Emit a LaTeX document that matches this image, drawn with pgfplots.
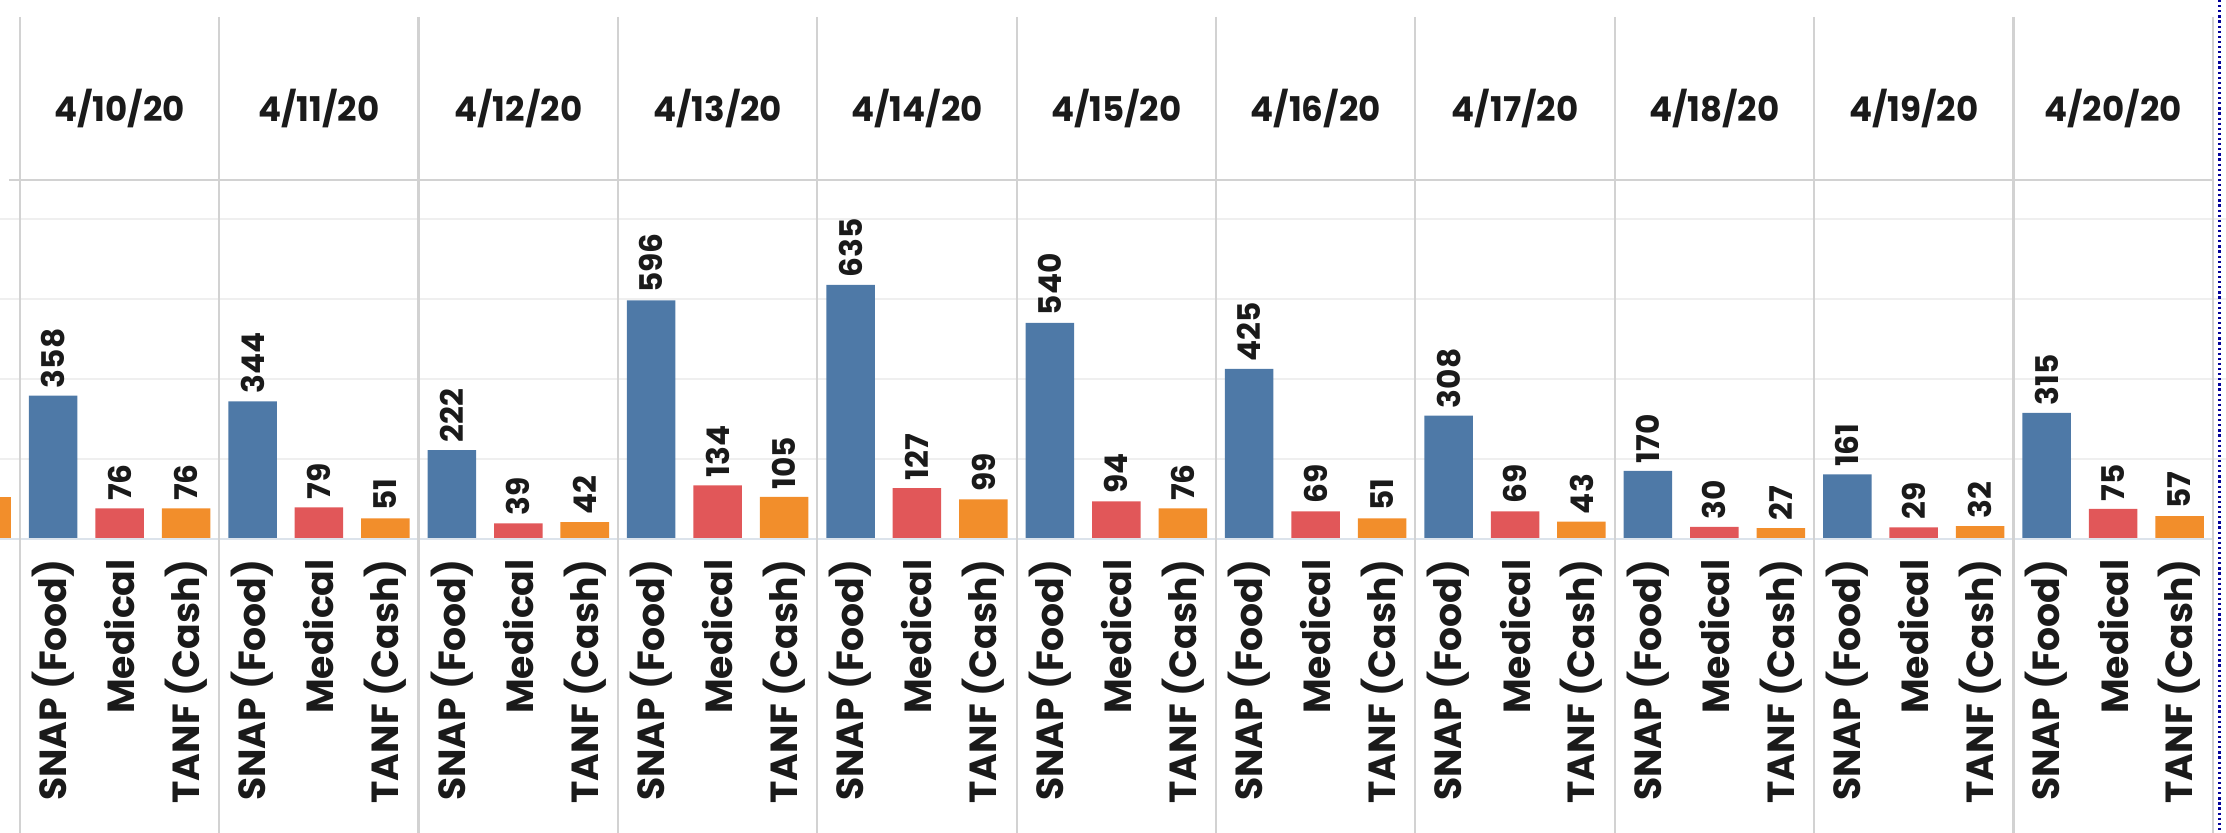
\documentclass[border=0pt]{standalone}
\usepackage{fontspec}
\setmainfont{Poppins}
\usepackage{pgfplots}
\pgfplotsset{compat=1.18}
\definecolor{snap}{HTML}{4E79A7}
\definecolor{med}{HTML}{E15759}
\definecolor{tanf}{HTML}{F28E2B}
\definecolor{sep}{HTML}{D2D2D2}
\definecolor{grd}{HTML}{EFEFEF}
\definecolor{labc}{HTML}{1A1A1A}
\definecolor{basec}{HTML}{DCE3EB}
\begin{document}
\begin{tikzpicture}
\begin{axis}[
 scale only axis, width=784pt, height=189.8pt,
 xmin=-0.8, xmax=32.7, ymin=0, ymax=1347,
 axis line style={draw=none},
 major tick length=0pt,
 xtick={0,...,32},
 xticklabels={SNAP (Food),Medical,TANF (Cash),SNAP (Food),Medical,TANF (Cash),SNAP (Food),Medical,TANF (Cash),SNAP (Food),Medical,TANF (Cash),SNAP (Food),Medical,TANF (Cash),SNAP (Food),Medical,TANF (Cash),SNAP (Food),Medical,TANF (Cash),SNAP (Food),Medical,TANF (Cash),SNAP (Food),Medical,TANF (Cash),SNAP (Food),Medical,TANF (Cash),SNAP (Food),Medical,TANF (Cash)},
 x tick label style={font=\bfseries\fontsize{13.3}{13.3}\selectfont, text=labc, rotate=90, anchor=east, inner sep=0pt},
 xticklabel shift=7pt,
 ytick={200,400,600,800}, yticklabels={}, ymajorgrids, grid style={grd, line width=0.7pt},
 ybar, bar shift=0pt, bar width=0.73,
 clip mode=individual,
 /pgf/number format/assume math mode=true,
 every node near coord/.append style={rotate=90, anchor=west, inner sep=2.5pt, font=\bfseries\fontsize{11}{11}\selectfont, text=labc},
]
\addplot[fill=tanf, draw=none] coordinates {(-1,105)};
\addplot[fill=snap, draw=none, nodes near coords] coordinates {(0,358) (3,344) (6,222) (9,596) (12,635) (15,540) (18,425) (21,308) (24,170) (27,161) (30,315)};
\addplot[fill=med, draw=none, nodes near coords] coordinates {(1,76) (4,79) (7,39) (10,134) (13,127) (16,94) (19,69) (22,69) (25,30) (28,29) (31,75)};
\addplot[fill=tanf, draw=none, nodes near coords] coordinates {(2,76) (5,51) (8,42) (11,105) (14,99) (17,76) (20,51) (23,43) (26,27) (29,32) (32,57)};
\draw[basec, line width=0.8pt] (axis cs:-0.8,0) -- (axis cs:32.5,0);
\draw[sep, line width=0.8pt] (axis cs:-0.66,897) -- (axis cs:32.5,897);
\pgfplotsinvokeforeach{-0.5,2.5,5.5,8.5,11.5,14.5,17.5,20.5,23.5,26.5,29.5,32.5}{
 \draw[sep, line width=0.8pt] (axis cs:#1,1305) -- (axis cs:#1,-735);
}
\draw[blue!60!black, densely dotted, line width=0.8pt] (axis cs:32.6,1347) -- (axis cs:32.6,-735);
\begin{scope}[every node/.style={font=\bfseries\fontsize{12}{12}\selectfont, text=labc}]
\node at (axis cs:1,1077) {4/10/20};
\node at (axis cs:4,1077) {4/11/20};
\node at (axis cs:7,1077) {4/12/20};
\node at (axis cs:10,1077) {4/13/20};
\node at (axis cs:13,1077) {4/14/20};
\node at (axis cs:16,1077) {4/15/20};
\node at (axis cs:19,1077) {4/16/20};
\node at (axis cs:22,1077) {4/17/20};
\node at (axis cs:25,1077) {4/18/20};
\node at (axis cs:28,1077) {4/19/20};
\node at (axis cs:31,1077) {4/20/20};
\end{scope}
\coordinate (bbl) at (axis cs:-0.8,-735);
\coordinate (btr) at (axis cs:32.7,1347);
\end{axis}
\pgfresetboundingbox
\useasboundingbox (bbl) rectangle (btr);
\end{tikzpicture}
\end{document}
